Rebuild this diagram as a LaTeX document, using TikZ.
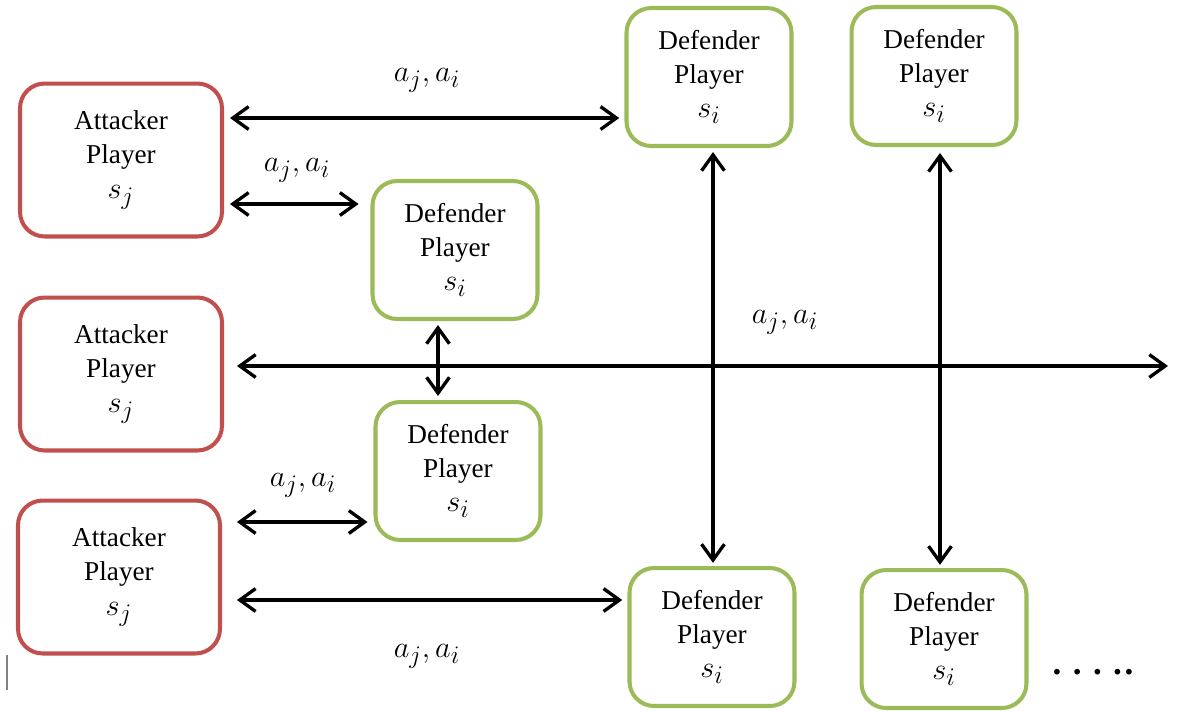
\documentclass[tikz,border=0pt]{standalone}
\usepackage{fontspec}
\setmainfont{Liberation Serif}
\usepackage{tikz}
\usetikzlibrary{arrows.meta, positioning, calc}
\definecolor{colAtk}{RGB}{192, 80, 77}
\definecolor{colDef}{RGB}{155, 187, 89}

\newcommand{\bigmath}[1]{{\fontsize{19}{20}\selectfont$#1$}}

\tikzset{
    player/.style={rectangle, rounded corners=14pt, line width=2.3pt, fill=white,
        align=center, font=\fontsize{15.5}{19.5}\selectfont},
    attacker/.style={player, draw=colAtk, minimum width=4.04cm, minimum height=3.06cm},
    defender/.style={player, draw=colDef, minimum width=3.3cm, minimum height=2.76cm},
    link/.style={line width=1.9pt,
        {Straight Barb[length=9pt,width=13pt]}-{Straight Barb[length=9pt,width=13pt]}},
    lbl/.style={font=\fontsize{19}{19}\selectfont}
}

\begin{document}
\begin{tikzpicture}[x=0.02cm, y=-0.02cm]
    \useasboundingbox (0,0) rectangle (1178,711);

    % --- Attacker ---
    \node[attacker] (att1) at (121,160) {Attacker\\Player\\\bigmath{s_j}};
    \node[attacker] (att2) at (121,374) {Attacker\\Player\\\bigmath{s_j}};
    \node[attacker] (att3) at (119,577) {Attacker\\Player\\\bigmath{s_j}};

    % --- Defender ---
    \node[defender] (def1) at (709,77)  {Defender\\Player\\\bigmath{s_i}};
    \node[defender] (def2) at (455,250) {Defender\\Player\\\bigmath{s_i}};
    \node[defender] (def3) at (458,471) {Defender\\Player\\\bigmath{s_i}};
    \node[defender] (def4) at (934,76)  {Defender\\Player\\\bigmath{s_i}};
    \node[defender] (def5) at (712,637) {Defender\\Player\\\bigmath{s_i}};
    \node[defender] (def6) at (944,639) {Defender\\Player\\\bigmath{s_i}};

    \coordinate (far) at (1168,366);

    % --- horizontale Verbindungen ---
    \draw[link, shorten <=3.4pt, shorten >=3pt]
        ($(att1.east)+(0,-42)$) -- ($(att1.east -| def1.west)+(0,-42)$);
    \draw[link, shorten <=3.4pt, shorten >=6.8pt]
        ($(att1.east)+(0,44)$) -- ($(att1.east -| def2.west)+(0,44)$);
    \draw[link, shorten <=7.4pt]
        ($(att2.east)+(0,-8)$) -- (far);
    \draw[link, shorten <=8.5pt, shorten >=3.4pt]
        ($(att3.east)+(0,-55)$) -- ($(att3.east -| def3.west)+(0,-55)$);
    \draw[link, shorten <=8.5pt, shorten >=3pt]
        ($(att3.east)+(0,23)$) -- ($(att3.east -| def5.west)+(0,23)$);

    % --- vertikale Verbindungen ---
    \coordinate (v23) at ($(def2.south)+(-17,0)$);
    \coordinate (v15) at ($(def1.south)+(4,0)$);
    \coordinate (v46) at ($(def4.south)+(6,0)$);
    \draw[link, shorten <=2.3pt, shorten >=2.3pt] (v23) -- (v23 |- def3.north);
    \draw[link, shorten <=2.3pt, shorten >=1.8pt] (v15) -- (v15 |- def5.north);
    \draw[link, shorten <=3.4pt, shorten >=1.8pt] (v46) -- (v46 |- def6.north);

    % --- Beschriftungen ---
    \node[lbl] (lab1) at (427,80)  {$a_j, a_i$};
    \node[lbl] (lab2) at (297,170) {$a_j, a_i$};
    \node[lbl] (lab3) at (785,322) {$a_j, a_i$};
    \node[lbl] (lab4) at (303,485) {$a_j, a_i$};
    \node[lbl] (lab5) at (427,656) {$a_j, a_i$};

    \node[font=\fontsize{20}{20}\bfseries\selectfont] (dots) at (1093,672)
        {.\hspace{6.5pt}.\hspace{6.5pt}.\hspace{6.5pt}.\hspace{1.5pt}.};
    \draw[gray, line width=0.9pt] (7,655) -- (7,690);
\end{tikzpicture}
\end{document}
